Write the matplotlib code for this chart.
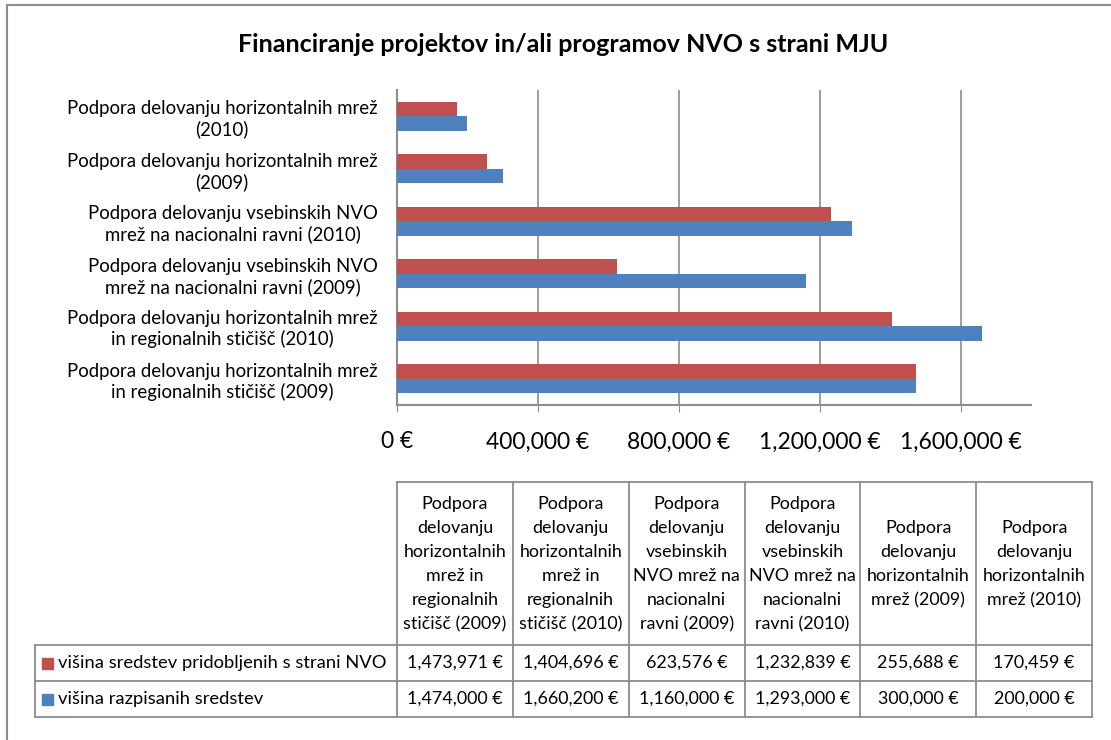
import numpy as np
import matplotlib.pyplot as plt
from matplotlib.lines import Line2D
from matplotlib.patches import Rectangle

plt.rcParams['font.family'] = ['Lato', 'DejaVu Sans']

# categories, bottom to top in the chart
categories = [
    'Podpora delovanju horizontalnih mrež\nin regionalnih stičišč (2009)',
    'Podpora delovanju horizontalnih mrež\nin regionalnih stičišč (2010)',
    'Podpora delovanju vsebinskih NVO\nmrež na nacionalni ravni (2009)',
    'Podpora delovanju vsebinskih NVO\nmrež na nacionalni ravni (2010)',
    'Podpora delovanju horizontalnih mrež\n(2009)',
    'Podpora delovanju horizontalnih mrež\n(2010)',
]
table_headers = [
    'Podpora\ndelovanju\nhorizontalnih\nmrež in\nregionalnih\nstičišč (2009)',
    'Podpora\ndelovanju\nhorizontalnih\nmrež in\nregionalnih\nstičišč (2010)',
    'Podpora\ndelovanju\nvsebinskih\nNVO mrež na\nnacionalni\nravni (2009)',
    'Podpora\ndelovanju\nvsebinskih\nNVO mrež na\nnacionalni\nravni (2010)',
    'Podpora\ndelovanju\nhorizontalnih\nmrež (2009)',
    'Podpora\ndelovanju\nhorizontalnih\nmrež (2010)',
]
series_names = ['višina sredstev pridobljenih s strani NVO', 'višina razpisanih sredstev']
pridobljeno = [1473971, 1404696, 623576, 1232839, 255688, 170459]
razpisano = [1474000, 1660200, 1160000, 1293000, 300000, 200000]
colors = ['#C0504D', '#4F81BD']

W, H = 1111, 740
fig = plt.figure(figsize=(W / 100, H / 100), dpi=100)

def fx(px):
    return px / W

def fy(py):
    return 1 - py / H

# outer frame (right and bottom edges fall outside the picture)
fig.add_artist(Rectangle((fx(7), fy(760)), fx(1130), 755 / H, transform=fig.transFigure,
                         fill=False, ec='#8c8c8c', lw=1.5))

fig.text(fx(563), fy(44), 'Financiranje projektov in/ali programov NVO s strani MJU',
         ha='center', va='center', fontsize=18, fontweight='bold')

ax = fig.add_axes([fx(397), fy(405), fx(1031 - 397), (405 - 90) / H])
y = np.arange(len(categories))
h = 0.28
ax.barh(y + h / 2, pridobljeno, height=h, color=colors[0], zorder=3)
ax.barh(y - h / 2, razpisano, height=h, color=colors[1], zorder=3)
ax.set_xlim(0, 1800000)
ax.set_ylim(-0.5, len(categories) - 0.5)
ticks = [0, 400000, 800000, 1200000, 1600000]
ax.set_xticks(ticks)
ax.set_xticklabels(['{:,} €'.format(t) for t in ticks], fontsize=16.5)
ax.tick_params(axis='x', length=5, color='#8c8c8c', pad=14)
ax.set_yticks(y)
ax.set_yticklabels(categories, fontsize=13.4, multialignment='center')
ax.tick_params(axis='y', length=0, pad=14)
ax.grid(axis='x', color='#8c8c8c', lw=1.2, zorder=0)
for s in ['top', 'right']:
    ax.spines[s].set_visible(False)
for s in ['left', 'bottom']:
    ax.spines[s].set_color('#8c8c8c')
    ax.spines[s].set_linewidth(1.5)

# data table below chart
col_x = np.linspace(397, 1092, len(categories) + 1)
row_y = [482, 645, 681, 717]
lab_x0 = 35
lc = '#8c8c8c'

def hline(x0, x1, yy):
    fig.add_artist(Line2D([fx(x0), fx(x1)], [fy(yy), fy(yy)], color=lc, lw=1.3))

def vline(xx, y0, y1):
    fig.add_artist(Line2D([fx(xx), fx(xx)], [fy(y0), fy(y1)], color=lc, lw=1.3))

hline(col_x[0], col_x[-1], row_y[0])
for yy in row_y[1:]:
    hline(lab_x0, col_x[-1], yy)
for xx in col_x:
    vline(xx, row_y[0], row_y[-1])
vline(lab_x0, row_y[1], row_y[-1])

for i, txt in enumerate(table_headers):
    fig.text(fx((col_x[i] + col_x[i + 1]) / 2), fy((row_y[0] + row_y[1]) / 2 + 1), txt,
             ha='center', va='center', fontsize=12.9, linespacing=1.62)

for r, (name, vals) in enumerate(zip(series_names, [pridobljeno, razpisano])):
    yc = (row_y[r + 1] + row_y[r + 2]) / 2
    fig.add_artist(Rectangle((fx(42), fy(yc + 5.5)), fx(11), 11 / H, transform=fig.transFigure,
                             color=colors[r]))
    fig.text(fx(58), fy(yc), name, ha='left', va='center', fontsize=13.2)
    for i, v in enumerate(vals):
        fig.text(fx((col_x[i] + col_x[i + 1]) / 2), fy(yc), '{:,} €'.format(v),
                 ha='center', va='center', fontsize=12.9)

fig.savefig('out.png', dpi=100)
